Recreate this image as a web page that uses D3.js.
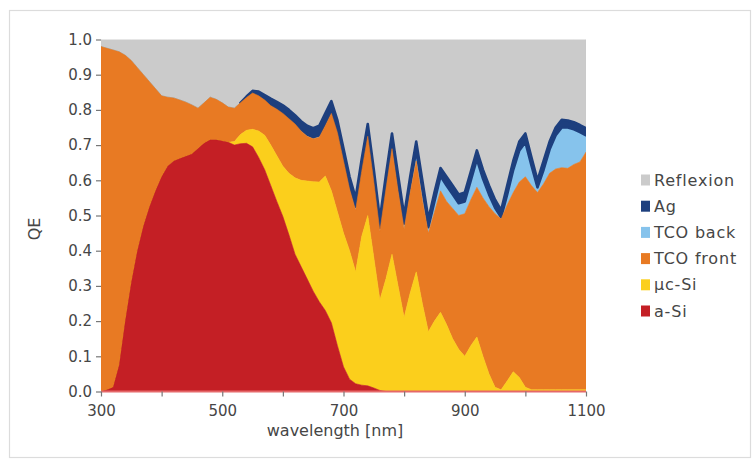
<!DOCTYPE html>
<html>
<head>
<meta charset="utf-8">
<script src="https://cdn.jsdelivr.net/npm/d3@7"></script>
<style>
  html, body { margin: 0; padding: 0; background: #ffffff; }
  svg { display: block; }
  text { font-family: "DejaVu Sans", sans-serif; }
</style>
</head>
<body>
<script>
// ---------- data (upper edge of each stacked layer, QE) ----------
const wavelengths = [300,310,320,330,340,350,360,370,380,390,400,410,420,430,440,450,460,470,480,490,
  500,510,520,530,540,550,560,570,580,590,600,610,620,630,640,650,660,670,680,690,
  700,710,720,730,740,750,760,770,780,790,800,810,820,830,840,850,860,870,880,890,
  900,910,920,930,940,950,960,970,980,990,1000,1010,1020,1030,1040,1050,1060,1070,1080,1090,1100];

const aSiTop = [0.0,0.005,0.012,0.075,0.2,0.31,0.4,0.47,0.525,0.57,0.61,0.64,0.655,0.662,0.668,0.675,0.69,0.705,0.715,0.715,
  0.712,0.708,0.70,0.704,0.705,0.695,0.665,0.63,0.585,0.54,0.497,0.445,0.39,0.355,0.32,0.285,0.255,0.23,0.195,0.13,
  0.07,0.035,0.022,0.018,0.016,0.01,0.003,0,0,0,0,0,0,0,0,0,0,0,0,0,
  0,0,0,0,0,0,0,0,0,0,0,0,0,0,0,0,0,0,0,0,0];

const ucSiTop = [0.0,0.005,0.012,0.075,0.2,0.31,0.4,0.47,0.525,0.57,0.61,0.64,0.655,0.662,0.668,0.675,0.69,0.705,0.715,0.715,
  0.712,0.708,0.71,0.73,0.742,0.745,0.74,0.728,0.70,0.67,0.64,0.62,0.607,0.60,0.598,0.596,0.595,0.612,0.57,0.51,
  0.45,0.40,0.34,0.44,0.50,0.38,0.26,0.32,0.39,0.30,0.21,0.28,0.34,0.25,0.17,0.20,0.225,0.19,0.15,0.12,
  0.10,0.13,0.155,0.10,0.05,0.012,0.005,0.03,0.056,0.04,0.012,0.005,0.005,0.005,0.005,0.005,0.005,0.005,0.005,0.005,0.005];

const tcoFrontTop = [0.98,0.975,0.97,0.965,0.955,0.94,0.92,0.90,0.88,0.86,0.84,0.836,0.834,0.828,0.822,0.814,0.805,0.82,0.836,0.83,
  0.82,0.808,0.805,0.82,0.835,0.848,0.84,0.828,0.812,0.802,0.79,0.775,0.76,0.74,0.725,0.718,0.722,0.755,0.79,0.735,
  0.655,0.575,0.515,0.625,0.725,0.595,0.455,0.575,0.69,0.57,0.462,0.565,0.655,0.545,0.45,0.51,0.57,0.54,0.52,0.50,
  0.505,0.545,0.58,0.55,0.525,0.505,0.49,0.53,0.565,0.595,0.61,0.585,0.565,0.59,0.62,0.632,0.636,0.634,0.645,0.652,0.68];

const tcoBackTop = [0.98,0.975,0.97,0.965,0.955,0.94,0.92,0.90,0.88,0.86,0.84,0.836,0.834,0.828,0.822,0.814,0.805,0.82,0.836,0.83,
  0.82,0.808,0.805,0.82,0.835,0.848,0.842,0.83,0.815,0.805,0.792,0.778,0.762,0.744,0.73,0.722,0.728,0.762,0.797,0.742,
  0.663,0.585,0.525,0.635,0.735,0.605,0.465,0.59,0.71,0.59,0.477,0.586,0.685,0.575,0.467,0.54,0.612,0.585,0.56,0.535,
  0.54,0.60,0.66,0.605,0.56,0.522,0.495,0.56,0.63,0.685,0.708,0.642,0.58,0.63,0.688,0.728,0.75,0.75,0.745,0.737,0.728];

const agTop = [0.98,0.975,0.97,0.965,0.955,0.94,0.92,0.90,0.88,0.86,0.84,0.836,0.834,0.828,0.822,0.814,0.805,0.82,0.836,0.83,
  0.82,0.808,0.805,0.82,0.838,0.854,0.852,0.842,0.832,0.823,0.813,0.80,0.785,0.768,0.755,0.748,0.755,0.79,0.825,0.77,
  0.69,0.61,0.55,0.66,0.76,0.63,0.49,0.615,0.733,0.615,0.50,0.61,0.71,0.60,0.49,0.565,0.635,0.61,0.585,0.56,
  0.565,0.625,0.685,0.63,0.585,0.545,0.515,0.585,0.655,0.71,0.733,0.665,0.60,0.655,0.71,0.75,0.772,0.77,0.765,0.757,0.748];

const reflexionTop = 1.0;

const seriesNames = ["Reflexion", "Ag", "TCO back", "TCO front", "µc-Si", "a-Si"];
const seriesColors = ["#cbcbcb", "#1d3f7e", "#86c3ec", "#e87a23", "#fbcf1c", "#c41f25"];

const yTicks = [0,0.1,0.2,0.3,0.4,0.5,0.6,0.7,0.8,0.9,1.0];
const xTicks = [300,400,500,600,700,800,900,1000,1100];
const xTickLabels = [300,500,700,900,1100];

// ---------- drawing ----------
const W = 756, H = 463;
const svg = d3.select("body").append("svg").attr("width", W).attr("height", H);

// frame
svg.append("rect").attr("x", 9.5).attr("y", 10.5).attr("width", 741).attr("height", 447)
  .attr("fill", "#ffffff").attr("stroke", "#dcdcdc").attr("stroke-width", 1.2);

const x = d3.scaleLinear().domain([300, 1100]).range([101, 586]);
const y = d3.scaleLinear().domain([0, 1]).range([391.5, 39.5]);

const n = wavelengths.length;
const hasLayer = (lo, hi) => (d, i) =>
  (hi[i] - lo[i] > 0) || (i + 1 < n && hi[i + 1] - lo[i + 1] > 0) || (i > 0 && hi[i - 1] - lo[i - 1] > 0);

const layers = [
  { name: "Reflexion", lo: agTop, hi: wavelengths.map(() => reflexionTop), sw: 0.6 },
  { name: "TCO back", lo: tcoFrontTop, hi: tcoBackTop, sw: 0.6 },
  { name: "Ag", lo: tcoBackTop, hi: agTop, sw: 2.6, trim: true },
  { name: "TCO front", lo: ucSiTop, hi: tcoFrontTop, sw: 0.6 },
  { name: "µc-Si", lo: aSiTop, hi: ucSiTop, sw: 0.6 },
  { name: "a-Si", lo: wavelengths.map(() => 0), hi: aSiTop, sw: 0.6 }
];

svg.append("clipPath").attr("id", "plotclip").append("rect")
  .attr("x", x(300)).attr("y", y(1)).attr("width", x(1100) - x(300)).attr("height", y(0) - y(1));

const g = svg.append("g").attr("clip-path", "url(#plotclip)");
layers.forEach(L => {
  const color = seriesColors[seriesNames.indexOf(L.name)];
  const area = d3.area()
    .x((d, i) => x(wavelengths[i]))
    .y0((d, i) => y(L.lo[i]))
    .y1((d, i) => y(L.hi[i]));
  if (L.trim) area.defined(hasLayer(L.lo, L.hi));
  g.append("path").datum(wavelengths).attr("d", area)
    .attr("fill", color).attr("stroke", color).attr("stroke-width", L.sw)
    .attr("stroke-linejoin", "round");
});

// baseline
svg.append("line").attr("x1", x(300)).attr("x2", x(1100)).attr("y1", y(0)).attr("y2", y(0))
  .attr("stroke", "#e5686a").attr("stroke-width", 2);

const txt = "#464646";

// y axis
const yAxis = svg.append("g").attr("transform", `translate(${x(300)},0)`)
  .call(d3.axisLeft(y).tickValues(yTicks).tickFormat(d3.format(".1f")).tickSize(5).tickPadding(4));
yAxis.select(".domain").remove();
yAxis.selectAll(".tick line").attr("stroke", "#777").attr("stroke-width", 1.2);
yAxis.selectAll(".tick text").attr("fill", txt).style("font-size", "15px");

// x axis
const xAxis = svg.append("g").attr("transform", `translate(0,${y(0)})`)
  .call(d3.axisBottom(x).tickValues(xTicks)
    .tickFormat(d => xTickLabels.includes(d) ? String(d) : "").tickSize(5).tickPadding(9));
xAxis.select(".domain").remove();
xAxis.selectAll(".tick line").attr("stroke", "#777").attr("stroke-width", 1.2);
xAxis.selectAll(".tick text").attr("fill", txt).style("font-size", "15px");

// axis titles
svg.append("text").attr("x", 335).attr("y", 436).attr("text-anchor", "middle")
  .attr("fill", txt).style("font-size", "16px").text("wavelength [nm]");
svg.append("text").attr("transform", "translate(34,229) rotate(-90)").attr("text-anchor", "middle")
  .attr("dominant-baseline", "central").attr("fill", txt).style("font-size", "16px").text("QE");

// legend
const legY = d3.scalePoint().domain(seriesNames).range([180, 311]);
const leg = svg.append("g");
seriesNames.forEach((nm, i) => {
  leg.append("rect").attr("x", 641).attr("y", legY(nm) - 5.5).attr("width", 9).attr("height", 11)
    .attr("fill", seriesColors[i]);
  leg.append("text").attr("x", 654).attr("y", legY(nm)).attr("dominant-baseline", "central")
    .attr("fill", txt).style("font-size", "16px").style("letter-spacing", "0.8px").text(nm);
});
</script>
</body>
</html>
